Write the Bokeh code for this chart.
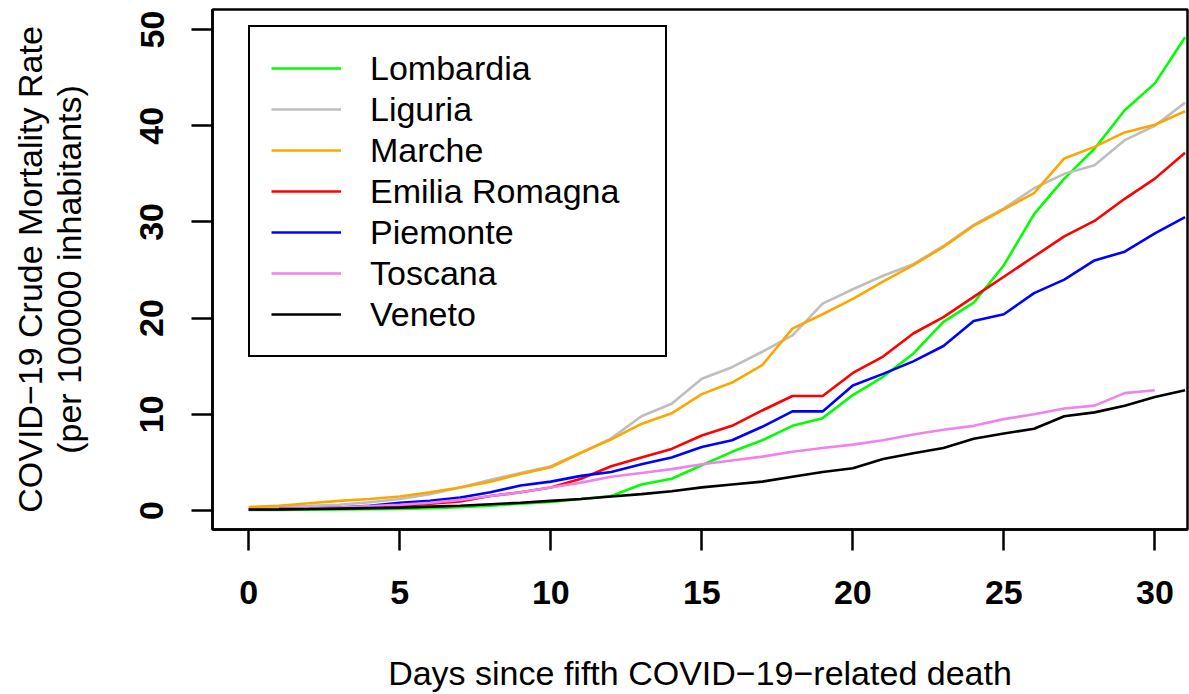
from bokeh.plotting import figure
from bokeh.models import FixedTicker, Range1d, Legend, LegendItem
from bokeh.embed import file_html
from bokeh.resources import INLINE

days = list(range(0, 32))
days_toscana = list(range(0, 31))

lombardia = [0.05, 0.06, 0.08, 0.1, 0.13, 0.17, 0.25, 0.35, 0.5, 0.7, 0.9, 1.2, 1.5, 2.7, 3.3, 4.7,
             6.1, 7.3, 8.8, 9.6, 12.0, 13.9, 16.3, 19.6, 21.6, 25.5, 30.8, 34.5, 37.6, 41.6, 44.4, 49.2]
liguria = [0.32, 0.38, 0.48, 0.6, 0.85, 1.2, 1.7, 2.4, 3.2, 3.9, 4.6, 6.0, 7.5, 9.8, 11.1, 13.7,
           14.9, 16.5, 18.2, 21.5, 23.0, 24.4, 25.6, 27.5, 29.7, 31.4, 33.5, 35.0, 35.9, 38.5, 40.0, 42.4]
marche = [0.35, 0.5, 0.75, 1.0, 1.2, 1.45, 1.9, 2.4, 3.0, 3.8, 4.5, 6.0, 7.4, 9.0, 10.1, 12.1,
          13.3, 15.1, 18.9, 20.4, 22.0, 23.8, 25.5, 27.4, 29.6, 31.3, 33.0, 36.6, 37.8, 39.3, 40.1, 41.5]
emilia = [0.11, 0.14, 0.18, 0.25, 0.35, 0.5, 0.7, 0.95, 1.5, 1.9, 2.4, 3.3, 4.6, 5.5, 6.4, 7.8,
          8.8, 10.4, 11.9, 11.9, 14.3, 16.0, 18.4, 20.1, 22.2, 24.3, 26.4, 28.5, 30.1, 32.4, 34.5, 37.2]
piemonte = [0.11, 0.15, 0.2, 0.3, 0.5, 0.8, 1.0, 1.35, 1.9, 2.6, 3.0, 3.6, 4.0, 4.8, 5.5, 6.6,
            7.3, 8.7, 10.3, 10.3, 13.0, 14.2, 15.5, 17.1, 19.7, 20.4, 22.6, 24.0, 26.0, 26.9, 28.8, 30.5]
toscana = [0.13, 0.16, 0.2, 0.3, 0.45, 0.6, 0.8, 1.1, 1.5, 1.9, 2.4, 2.9, 3.5, 3.9, 4.3, 4.8,
           5.2, 5.6, 6.1, 6.5, 6.85, 7.3, 7.9, 8.4, 8.8, 9.5, 10.0, 10.6, 10.9, 12.2, 12.5]
veneto = [0.1, 0.12, 0.15, 0.2, 0.25, 0.3, 0.4, 0.5, 0.65, 0.8, 1.0, 1.2, 1.45, 1.7, 2.0, 2.4,
          2.7, 3.0, 3.5, 4.0, 4.4, 5.35, 5.95, 6.5, 7.45, 8.0, 8.5, 9.8, 10.2, 10.9, 11.8, 12.5]

region_names = ["Lombardia", "Liguria", "Marche", "Emilia Romagna", "Piemonte", "Toscana", "Veneto"]
region_colors = ["#00FF00", "#BEBEBE", "#FFA500", "#FF0000", "#0000FF", "#EE82EE", "#000000"]
region_x = [days, days, days, days, days, days_toscana, days]
region_y = [lombardia, liguria, marche, emilia, piemonte, toscana, veneto]

x_ticks = [0, 5, 10, 15, 20, 25, 30]
y_ticks = [0, 10, 20, 30, 40, 50]

FONT = "Liberation Sans"

p = figure(width=1189, height=694, output_backend="svg", toolbar_location=None,
           x_range=Range1d(-1.20, 31.08), y_range=Range1d(-1.975, 52.08),
           min_border_left=212, min_border_right=2, min_border_top=9, min_border_bottom=165)
p.xgrid.visible = False
p.ygrid.visible = False
p.outline_line_color = "black"
p.outline_line_width = 2.5
p.outline_line_alpha = 1.0
p.background_fill_color = "white"
p.border_fill_color = "white"

renderers = []
for xs, ys, c in zip(region_x, region_y, region_colors):
    r = p.line(xs, ys, line_color=c, line_width=2.6)
    renderers.append(r)

for ax in (p.xaxis[0], p.yaxis[0]):
    ax.axis_line_color = "black"
    ax.axis_line_width = 2.5
    ax.major_tick_line_color = "black"
    ax.major_tick_line_width = 2.5
    ax.major_tick_in = 0
    ax.major_tick_out = 21
    ax.minor_tick_line_color = None
    ax.major_label_text_font = FONT
    ax.major_label_text_font_style = "bold"
    ax.major_label_text_font_size = "34px"
    ax.major_label_text_color = "black"
    ax.axis_label_text_font = FONT
    ax.axis_label_text_font_style = "normal"
    ax.axis_label_text_font_size = "34px"
    ax.axis_label_text_color = "black"

p.xaxis[0].ticker = FixedTicker(ticks=x_ticks)
p.yaxis[0].ticker = FixedTicker(ticks=y_ticks)
p.xaxis[0].major_label_standoff = 30
p.yaxis[0].major_label_standoff = 28
p.yaxis[0].major_label_orientation = "vertical"
p.xaxis[0].axis_label = "Days since fifth COVID\u221219\u2212related death"
p.yaxis[0].axis_label = "COVID\u221219 Crude Mortality Rate\n(per 100000 inhabitants)"
p.yaxis[0].axis_label_text_line_height = 1.02
p.xaxis[0].axis_label_standoff = 47
p.yaxis[0].axis_label_standoff = 50

items = [LegendItem(label=n, renderers=[r]) for n, r in zip(region_names, renderers)]
legend = Legend(items=items, location=(36, 172))
legend.border_line_color = "black"
legend.border_line_width = 2.5
legend.border_line_alpha = 1.0
legend.background_fill_color = "white"
legend.background_fill_alpha = 1.0
legend.label_text_font = FONT
legend.label_text_font_size = "34px"
legend.label_text_color = "black"
legend.padding = 21
legend.glyph_width = 70
legend.glyph_height = 40
legend.label_height = 40
legend.label_standoff = 29
legend.label_width = 274
legend.spacing = 1
legend.margin = 0
p.add_layout(legend, "center")

open("out.html", "w").write(file_html(p, INLINE))
